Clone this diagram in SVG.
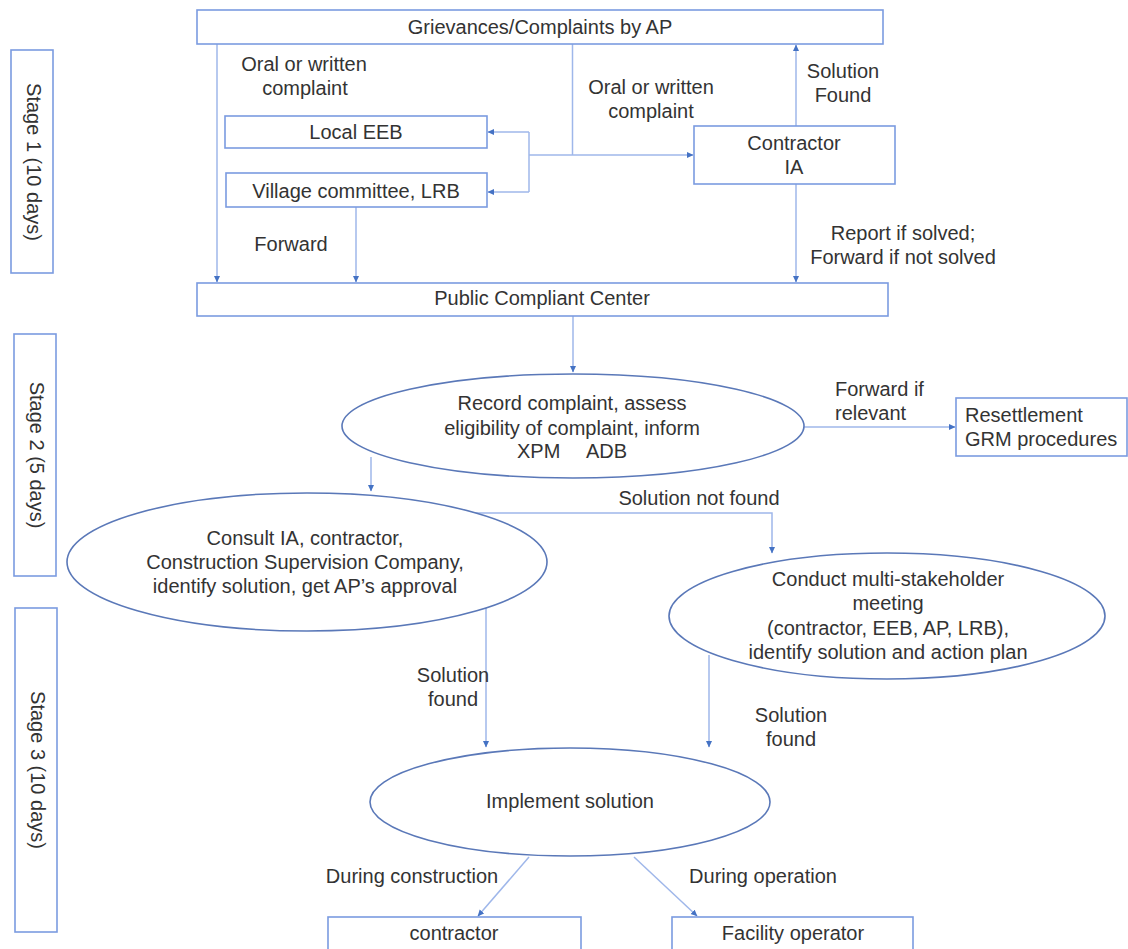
<svg xmlns="http://www.w3.org/2000/svg" width="1128" height="949" viewBox="0 0 1128 949">
<style>
text{font-family:"Liberation Sans",Arial,sans-serif;font-size:20px;fill:#333;}
.c{text-anchor:middle;}
.box{fill:#fff;stroke:#7b9be0;stroke-width:1.6;}
.ell{fill:#fff;stroke:#5a78b8;stroke-width:1.6;}
.ln{fill:none;stroke:#9fb7ea;stroke-width:1.5;}
.ar{marker-end:url(#ah);}
</style>
<defs>
<marker id="ah" markerWidth="7" markerHeight="7" refX="6" refY="3.5" orient="auto" markerUnits="userSpaceOnUse">
<path d="M0,0.5 L6.5,3.5 L0,6.5 z" fill="#4472c4"/>
</marker>
</defs>
<rect width="1128" height="949" fill="#fff"/>

<g id="connectors">
<path class="ln ar" d="M217,44 V282"/>
<path class="ln" d="M572.5,44 V155"/>
<path class="ln ar" d="M529,155 H693"/>
<path class="ln" d="M529,132 V192"/>
<path class="ln ar" d="M529,132 H488"/>
<path class="ln ar" d="M529,192 H488"/>
<path class="ln ar" d="M796,126 V45"/>
<path class="ln ar" d="M796,184 V282"/>
<path class="ln ar" d="M356,207 V282"/>
<path class="ln ar" d="M573,316 V372"/>
<path class="ln ar" d="M804,427 H955"/>
<path class="ln ar" d="M371,457 V491"/>
<path class="ln ar" d="M475,513 H772 V553"/>
<path class="ln ar" d="M486,607 V747"/>
<path class="ln ar" d="M709,655 V747"/>
<path class="ln ar" d="M529,857 L478,916"/>
<path class="ln ar" d="M634,857 L697,916"/>
</g>

<g id="stage1"><rect class="box" x="11" y="50" width="42" height="223"/><text class="c" transform="translate(27,162) rotate(90)">Stage 1 (10 days)</text></g>
<g id="stage2"><rect class="box" x="14" y="334" width="42" height="242"/><text class="c" transform="translate(30,455) rotate(90)">Stage 2 (5 days)</text></g>
<g id="stage3"><rect class="box" x="15" y="608" width="42" height="324"/><text class="c" transform="translate(31,770) rotate(90)">Stage 3 (10 days)</text></g>

<g id="grievances"><rect class="box" x="197" y="10" width="686" height="34"/><text class="c" x="540" y="34">Grievances/Complaints by AP</text></g>
<g id="local-eeb"><rect class="box" x="225" y="116" width="262" height="32"/><text class="c" x="356" y="139">Local EEB</text></g>
<g id="village"><rect class="box" x="226" y="173" width="261" height="34"/><text class="c" x="356" y="198">Village committee, LRB</text></g>
<g id="contractor-ia"><rect class="box" x="694" y="126" width="201" height="58"/><text class="c" x="794" y="150">Contractor</text><text class="c" x="794" y="174">IA</text></g>
<g id="public-center"><rect class="box" x="197" y="283" width="691" height="33"/><text class="c" x="542" y="305">Public Compliant Center</text></g>

<g id="record"><ellipse class="ell" cx="573" cy="426" rx="231" ry="52"/>
<text class="c" x="572" y="410">Record complaint, assess</text>
<text class="c" x="572" y="435">eligibility of complaint, inform</text>
<text x="517" y="458">XPM</text><text x="586" y="458">ADB</text></g>
<g id="resettlement"><rect class="box" x="956" y="398" width="171" height="58"/><text x="965" y="422">Resettlement</text><text x="965" y="446">GRM procedures</text></g>

<g id="consult"><ellipse class="ell" cx="307" cy="562" rx="240" ry="69"/>
<text class="c" x="305" y="545">Consult IA, contractor,</text>
<text class="c" x="305" y="569">Construction Supervision Company,</text>
<text class="c" x="305" y="593">identify solution, get AP’s approval</text></g>

<g id="conduct"><ellipse class="ell" cx="887" cy="616" rx="218" ry="63"/>
<text class="c" x="888" y="586">Conduct multi-stakeholder</text>
<text class="c" x="888" y="610">meeting</text>
<text class="c" x="888" y="635">(contractor, EEB, AP, LRB),</text>
<text class="c" x="888" y="659">identify solution and action plan</text></g>

<g id="implement"><ellipse class="ell" cx="570" cy="802" rx="200" ry="54"/><text class="c" x="570" y="808">Implement solution</text></g>

<g id="contractor-box"><rect class="box" x="328" y="917" width="253" height="40"/><text class="c" x="454" y="940">contractor</text></g>
<g id="facility"><rect class="box" x="672" y="917" width="241" height="40"/><text class="c" x="793" y="940">Facility operator</text></g>

<g id="labels">
<text class="c" x="304" y="71">Oral or written</text>
<text class="c" x="305" y="95">complaint</text>
<text class="c" x="651" y="94">Oral or written</text>
<text class="c" x="651" y="118">complaint</text>
<text class="c" x="843" y="78">Solution</text>
<text class="c" x="843" y="102">Found</text>
<text class="c" x="291" y="251">Forward</text>
<text class="c" x="903" y="240">Report if solved;</text>
<text class="c" x="903" y="264">Forward if not solved</text>
<text x="835" y="396">Forward if</text>
<text x="835" y="420">relevant</text>
<text class="c" x="699" y="505">Solution not found</text>
<text class="c" x="453" y="682">Solution</text>
<text class="c" x="453" y="706">found</text>
<text class="c" x="791" y="722">Solution</text>
<text class="c" x="791" y="746">found</text>
<text class="c" x="412" y="883">During construction</text>
<text class="c" x="763" y="883">During operation</text>
</g>
</svg>
